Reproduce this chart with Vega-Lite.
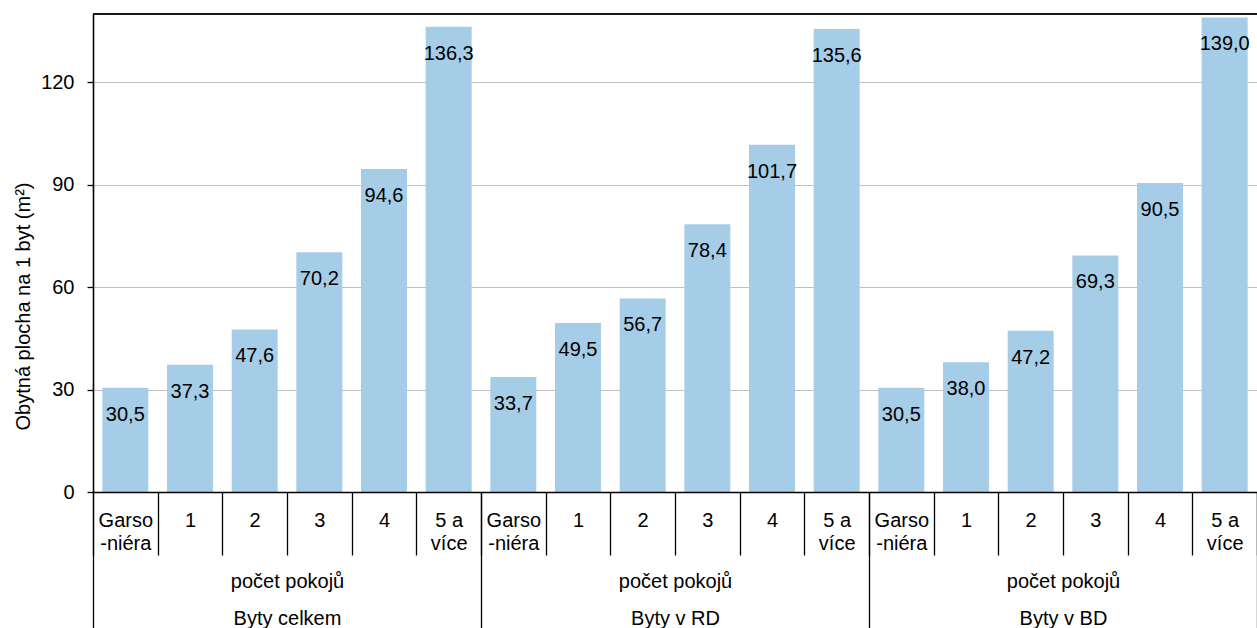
{
  "$schema": "https://vega.github.io/schema/vega-lite/v6.json",
  "width": 1164,
  "height": 478,
  "autosize": {"type": "none"},
  "padding": {"left": 93, "top": 14, "right": 0, "bottom": 136},
  "background": "white",
  "config": {
    "font": "Liberation Sans",
    "view": {"stroke": null},
    "locale": {"number": {"decimal": ",", "thousands": "\u00a0", "grouping": [3], "currency": ["", "\u00a0Kč"]}},
    "axis": {"labelFont": "Liberation Sans", "titleFont": "Liberation Sans", "labelColor": "black", "titleColor": "black"}
  },
  "data": {
    "values": [
      {"group": "Byty celkem", "room": "Garso/-niéra", "value": 30.5},
      {"group": "Byty celkem", "room": "1", "value": 37.3},
      {"group": "Byty celkem", "room": "2", "value": 47.6},
      {"group": "Byty celkem", "room": "3", "value": 70.2},
      {"group": "Byty celkem", "room": "4", "value": 94.6},
      {"group": "Byty celkem", "room": "5 a/více", "value": 136.3},
      {"group": "Byty v RD", "room": "Garso/-niéra", "value": 33.7},
      {"group": "Byty v RD", "room": "1", "value": 49.5},
      {"group": "Byty v RD", "room": "2", "value": 56.7},
      {"group": "Byty v RD", "room": "3", "value": 78.4},
      {"group": "Byty v RD", "room": "4", "value": 101.7},
      {"group": "Byty v RD", "room": "5 a/více", "value": 135.6},
      {"group": "Byty v BD", "room": "Garso/-niéra", "value": 30.5},
      {"group": "Byty v BD", "room": "1", "value": 38.0},
      {"group": "Byty v BD", "room": "2", "value": 47.2},
      {"group": "Byty v BD", "room": "3", "value": 69.3},
      {"group": "Byty v BD", "room": "4", "value": 90.5},
      {"group": "Byty v BD", "room": "5 a/více", "value": 139.0}
    ]
  },
  "transform": [
    {"calculate": "datum.group + '|' + datum.room", "as": "key"}
  ],
  "layer": [
    {
      "encoding": {
        "x": {
          "field": "key",
          "type": "nominal",
          "sort": null,
          "scale": {"type": "band", "paddingInner": 0, "paddingOuter": 0},
          "axis": {
            "orient": "bottom",
            "title": null,
            "zindex": 1,
            "labelAngle": 0,
            "labelExpr": "isValid(datum.value) ? split(split(datum.value, '|')[1], '/') : ''",
            "labelFontSize": 20,
            "labelLineHeight": 23,
            "labelBaseline": "alphabetic",
            "labelPadding": -29,
            "tickBand": "extent",
            "tickSize": 63,
            "tickColor": "black",
            "tickWidth": 1.3,
            "domainColor": "black",
            "domainWidth": 1.6,
            "grid": false
          }
        },
        "y": {
          "field": "value",
          "type": "quantitative",
          "scale": {"domain": [0, 140], "nice": false},
          "axis": {
            "values": [0, 30, 60, 90, 120],
            "title": "Obytná plocha na 1 byt (m²)",
            "titleFontSize": 20,
            "titleFontWeight": "normal",
            "titleY": 292,
            "titlePadding": 7,
            "labelFontSize": 20,
            "labelPadding": 13,
            "tickSize": 6,
            "tickColor": "black",
            "tickWidth": 1.3,
            "domainColor": "black",
            "domainWidth": 1.6,
            "gridColor": "#c0c0c0",
            "gridWidth": 1
          }
        }
      },
      "layer": [
        {"mark": {"type": "bar", "color": "#a6cde7", "width": {"band": 0.711}}},
        {
          "mark": {"type": "text", "baseline": "alphabetic", "align": "center", "dy": 33, "fontSize": 20, "color": "black"},
          "encoding": {"text": {"field": "value", "type": "quantitative", "format": ".1f"}}
        },
        {
          "mark": {"type": "rule", "color": "#1a1a1a", "strokeWidth": 2},
          "encoding": {"y": {"datum": 140}, "x": null}
        }
      ]
    },
    {
      "mark": {"type": "text"},
      "encoding": {
        "x": {
          "field": "group",
          "type": "nominal",
          "sort": null,
          "scale": {"type": "band", "paddingInner": 0, "paddingOuter": 0},
          "axis": {
            "orient": "bottom",
            "title": null,
            "zindex": 1,
            "domain": false,
            "labelAngle": 0,
            "labelExpr": "isValid(datum.value) ? ['počet pokojů', datum.value] : ''",
            "labelFontSize": 20,
            "labelLineHeight": 37,
            "labelBaseline": "alphabetic",
            "labelPadding": -45,
            "tickBand": "extent",
            "tickSize": 140,
            "tickColor": "black",
            "tickWidth": 1.3,
            "grid": false
          }
        }
      }
    }
  ],
  "resolve": {"scale": {"x": "independent"}, "axis": {"x": "independent"}}
}
